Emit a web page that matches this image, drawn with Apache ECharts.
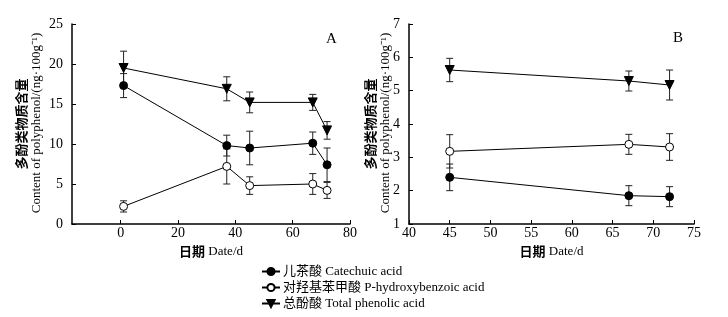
<!DOCTYPE html>
<html>
<head>
<meta charset="utf-8">
<script src="https://cdn.jsdelivr.net/npm/echarts@6/dist/echarts.min.js"></script>
<style>
  html, body { margin: 0; padding: 0; background: #fff; }
  #chart { width: 728px; height: 317px; }
</style>
</head>
<body>
<div id="chart"></div>
<script>
// panel A: whole storage period
const daysA = [1, 37, 45, 67, 72];
const catechuicA = [17.3, 9.8, 9.5, 10.1, 7.4];
const catechuicErrA = [1.5, 1.3, 2.1, 1.4, 2.1];
const hydroxyA = [2.2, 7.2, 4.8, 5.0, 4.2];
const hydroxyErrA = [0.7, 2.2, 1.1, 1.3, 1.0];
const totalA = [19.5, 16.9, 15.2, 15.2, 11.7];
const totalErrA = [2.1, 1.5, 1.3, 1.0, 1.1];

// panel B
const daysB = [45, 67, 72];
const catechuicB = [2.4, 1.85, 1.82];
const catechuicErrB = [0.4, 0.3, 0.3];
const hydroxyB = [3.18, 3.39, 3.31];
const hydroxyErrB = [0.5, 0.3, 0.4];
const totalB = [5.62, 5.29, 5.17];
const totalErrB = [0.35, 0.3, 0.45];

const xTicksA = [0, 20, 40, 60, 80];

const names = ['儿茶酸 Catechuic acid', '对羟基苯甲酸 P-hydroxybenzoic acid', '总酚酸 Total phenolic acid'];

const serif = '"Liberation Serif", "Noto Sans CJK SC", serif';
const cjk = '"Noto Sans CJK SC", sans-serif';
const triDown = 'path://M0,0 L10,0 L5,9 Z';

const pts = (xs, ys) => xs.map((x, i) => [x, ys[i]]);
const errPts = (xs, ys, es) => xs.map((x, i) => [x, ys[i] - es[i], ys[i] + es[i]]);

const lineSeries = (name, idx, xs, ys, symbol, fill, size) => ({
	name,
	type: 'line',
	xAxisIndex: idx,
	yAxisIndex: idx,
	data: pts(xs, ys),
	symbol,
	symbolSize: size,
	showAllSymbol: true,
	lineStyle: { color: '#000', width: 1 },
	itemStyle: { color: fill, borderColor: '#000', borderWidth: 1 },
	z: 3
});

const errSeries = (idx, xs, ys, es) => ({
	type: 'custom',
	xAxisIndex: idx,
	yAxisIndex: idx,
	data: errPts(xs, ys, es),
	silent: true,
	z: 2,
	renderItem: (params, api) => {
		const lo = api.coord([api.value(0), api.value(1)]);
		const hi = api.coord([api.value(0), api.value(2)]);
		const w = 3.5;
		const style = { stroke: '#222', lineWidth: 1 };
		return {
			type: 'group',
			children: [
				{ type: 'line', shape: { x1: lo[0], y1: lo[1], x2: hi[0], y2: hi[1] }, style },
				{ type: 'line', shape: { x1: lo[0] - w, y1: lo[1], x2: lo[0] + w, y2: lo[1] }, style },
				{ type: 'line', shape: { x1: hi[0] - w, y1: hi[1], x2: hi[0] + w, y2: hi[1] }, style }
			]
		};
	}
});

const axisCommon = {
	axisLine: { onZero: false, lineStyle: { color: '#000', width: 1.5 } },
	axisTick: { inside: true, length: 4, lineStyle: { color: '#000' } },
	axisLabel: { color: '#000', fontFamily: serif, fontSize: 14 },
	splitLine: { show: false }
};

const xName = {
	name: '{b|日期} {r|Date/d}',
	nameLocation: 'middle',
	nameGap: 15,
	nameTextStyle: {
		rich: {
			b: { fontFamily: cjk, fontWeight: 'bold', fontSize: 13, color: '#000' },
			r: { fontFamily: serif, fontSize: 13, color: '#000' }
		}
	}
};

// two-line rotated y title: Chinese line at cnX, English line at enX
const yTitle = (cnX, enX) => [
	{
		type: 'text', x: cnX, y: 124, rotation: Math.PI / 2,
		style: { text: '多酚类物质含量', font: 'bold 13px ' + cjk, fill: '#000', align: 'center', verticalAlign: 'middle' }
	},
	{
		type: 'text', x: enX, y: 123, rotation: Math.PI / 2,
		style: { text: 'Content of polyphenol/(ng·100g⁻¹)', font: '13px ' + serif, fill: '#000', align: 'center', verticalAlign: 'middle' }
	}
];

const legendRow = (name, top) => ({
	data: [name],
	left: 261,
	top,
	padding: 0,
	itemWidth: 18,
	itemHeight: 9,
	selectedMode: false,
	textStyle: { fontFamily: serif, fontSize: 13, color: '#000', padding: [0, 0, 0, -2] }
});

const chart = echarts.init(document.getElementById('chart'), null, { renderer: 'canvas' });

chart.setOption({
	animation: false,
	backgroundColor: '#fff',
	grid: [
		{ left: 72, top: 24, width: 278, height: 200 },
		{ left: 409, top: 24, width: 285, height: 200 }
	],
	xAxis: [
		Object.assign({}, axisCommon, xName, {
			gridIndex: 0, type: 'value', min: -17, max: 80,
			axisTick: Object.assign({}, axisCommon.axisTick, { customValues: xTicksA }),
			axisLabel: Object.assign({}, axisCommon.axisLabel, { customValues: xTicksA, margin: 2 })
		}),
		Object.assign({}, axisCommon, xName, {
			gridIndex: 1, type: 'value', min: 40, max: 75, interval: 5,
			axisLabel: Object.assign({}, axisCommon.axisLabel, { margin: 2 })
		})
	],
	yAxis: [
		Object.assign({}, axisCommon, { gridIndex: 0, type: 'value', min: 0, max: 25, interval: 5,
			axisLabel: Object.assign({}, axisCommon.axisLabel, { margin: 9 }) }),
		Object.assign({}, axisCommon, { gridIndex: 1, type: 'value', min: 1, max: 7, interval: 1,
			axisLabel: Object.assign({}, axisCommon.axisLabel, { margin: 9 }) })
	],
	legend: [
		legendRow(names[0], 265),
		legendRow(names[1], 281),
		legendRow(names[2], 297)
	],
	graphic: [
		...yTitle(21, 37),
		...yTitle(370, 386),
		{ type: 'text', x: 326, y: 32, style: { text: 'A', font: '15px ' + serif, fill: '#000' } },
		{ type: 'text', x: 673, y: 31, style: { text: 'B', font: '15px ' + serif, fill: '#000' } }
	],
	series: [
		errSeries(0, daysA, catechuicA, catechuicErrA),
		errSeries(0, daysA, hydroxyA, hydroxyErrA),
		errSeries(0, daysA, totalA, totalErrA),
		lineSeries(names[0], 0, daysA, catechuicA, 'circle', '#000', 8),
		lineSeries(names[1], 0, daysA, hydroxyA, 'circle', '#fff', 8),
		lineSeries(names[2], 0, daysA, totalA, triDown, '#000', 9),
		errSeries(1, daysB, catechuicB, catechuicErrB),
		errSeries(1, daysB, hydroxyB, hydroxyErrB),
		errSeries(1, daysB, totalB, totalErrB),
		lineSeries(names[0], 1, daysB, catechuicB, 'circle', '#000', 8),
		lineSeries(names[1], 1, daysB, hydroxyB, 'circle', '#fff', 8),
		lineSeries(names[2], 1, daysB, totalB, triDown, '#000', 9)
	]
});
</script>
</body>
</html>
